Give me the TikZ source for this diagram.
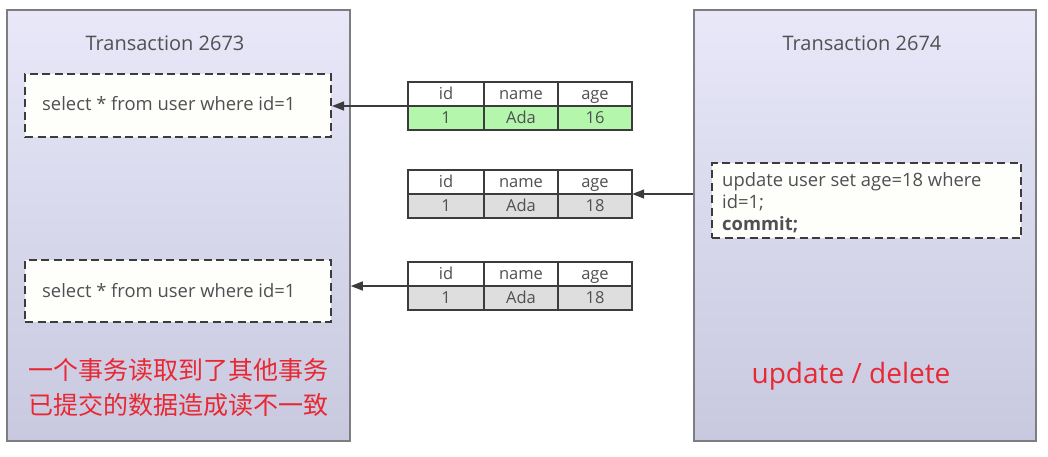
\documentclass[tikz,border=0pt]{standalone}
\usepackage{fontspec}
\setmainfont{Open Sans}
\newfontfamily\cjkfont{Noto Sans CJK SC}
\usetikzlibrary{arrows.meta}
\definecolor{txline}{RGB}{125,125,130}
\definecolor{txtop}{RGB}{232,232,249}
\definecolor{txbottom}{RGB}{200,200,223}
\definecolor{dashline}{RGB}{60,60,62}
\definecolor{textgray}{RGB}{80,80,84}
\definecolor{cellline}{RGB}{60,60,60}
\definecolor{rowgreen}{RGB}{180,246,172}
\definecolor{rowgray}{RGB}{222,222,222}
\definecolor{alertred}{RGB}{232,40,50}
\definecolor{sqlfill}{RGB}{254,254,250}
\tikzset{
  txbox/.style={draw=txline, line width=1.5pt, top color=txtop, bottom color=txbottom,
    minimum height=431pt, inner sep=0pt},
  txtitle/.style={text=textgray, font=\fontsize{20}{24}\selectfont},
  sqlbox/.style={draw=dashline, line width=2pt, dash pattern=on 8pt off 4.5pt,
    fill=sqlfill, minimum width=306pt, inner sep=0pt},
  sqltext/.style={text=textgray, font=\fontsize{18.4}{21}\selectfont, inner sep=0pt},
  cell/.style={draw=cellline, line width=1.8pt, minimum height=24pt, inner sep=0pt,
    text height=14pt, text depth=3pt,
    text=textgray, font=\fontsize{16.5}{18}\selectfont},
  tablebox/.style={minimum width=224pt, minimum height=48pt, inner sep=0pt},
  readarrow/.style={-{Triangle[length=12pt, width=9pt]}, draw=dashline, line width=1.6pt},
  alerttext/.style={text=alertred},
}
\begin{document}
\begin{tikzpicture}[x=1pt, y=-1pt]
  \useasboundingbox (0,0) rectangle (1048,456);
  % transactions
  \node[txbox, minimum width=343pt] (tx1) at (178.5,225.5) {};
  \node[txbox, minimum width=342pt] (tx2) at (865,225.5) {};
  \node[txtitle] (tx1title) at (165,43) {Transaction 2673};
  \node[txtitle] (tx2title) at (862,43) {Transaction 2674};
  % statements
  \node[sqlbox, minimum height=63pt] (sel1) at (178,105.5) {};
  \node[sqltext, anchor=west] (sel1text) at (42,104) {select * from user where id=1};
  \node[sqlbox, minimum height=62pt] (sel2) at (178,291) {};
  \node[sqltext, anchor=west] (sel2text) at (42,291) {select * from user where id=1};
  \node[sqlbox, minimum width=309pt, minimum height=75pt] (upd) at (866.5,200.5) {};
  \node[sqltext, anchor=north west, align=left, font=\fontsize{18.4}{22}\selectfont]
    (updtext) at (722,172) {update user set age=18 where\\id=1;\\\textbf{commit;}};
  % row versions
  \foreach \t/\y/\v/\rowc in {A/106/16/rowgreen, B/194/18/rowgray, C/286/18/rowgray} {
    \node[tablebox] (tbl\t) at (520,\y) {};
    \node[cell, fill=white, minimum width=76pt] (\t-hid) at (446,{\y-12}) {id};
    \node[cell, fill=white, minimum width=74pt] (\t-hname) at (521,{\y-12}) {name};
    \node[cell, fill=white, minimum width=74pt] (\t-hage) at (595,{\y-12}) {age};
    \node[cell, fill=\rowc, minimum width=76pt] (\t-id) at (446,{\y+12}) {1};
    \node[cell, fill=\rowc, minimum width=74pt] (\t-name) at (521,{\y+12}) {Ada};
    \node[cell, fill=\rowc, minimum width=74pt] (\t-age) at (595,{\y+12}) {\v};
  }
  % reads and write
  \draw[readarrow] (tblA.west) -- (sel1.east |- tblA.west);
  \draw[readarrow] (tx2.west |- tblB.east) -- (tblB.east);
  \draw[readarrow] (tblC.west) -- (tx1.east |- tblC.west);
  % notes
  \node[alerttext, align=center, font=\cjkfont\fontsize{25}{35}\selectfont]
    (note) at (178,388) {一个事务读取到了其他事务\\已提交的数据造成读不一致};
  \node[alerttext, font=\fontsize{28}{32}\selectfont] (ops) at (851,376) {update / delete};
\end{tikzpicture}
\end{document}
